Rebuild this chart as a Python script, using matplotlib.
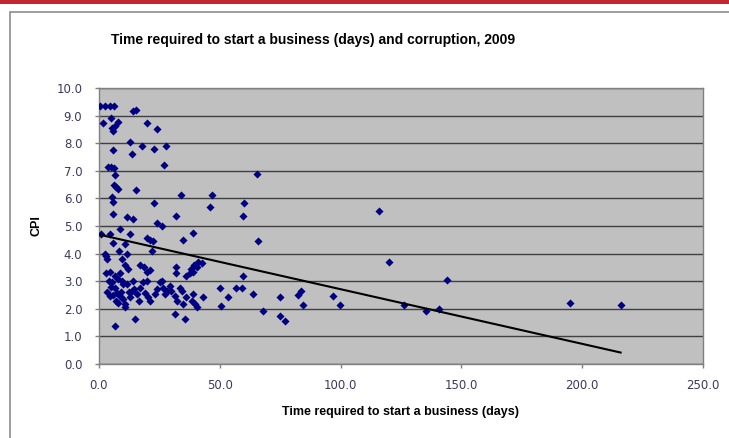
import numpy as np
import matplotlib.pyplot as plt
from matplotlib.patches import Rectangle

# values (days, CPI score)
days_high = [0.5, 2.5, 4.5, 6.3, 14.2, 15.2, 1.8, 4.8, 8.0, 5.2, 6.0, 6.6,
             20.0, 23.8, 12.8, 13.5, 5.7, 18.0, 22.7, 27.7, 26.9, 3.8, 5.0, 6.2,
             6.6, 6.2, 6.9, 7.9, 15.3, 5.2, 5.9, 33.8, 46.6, 45.9, 22.7,
             5.7, 11.4, 14.2, 31.8, 60.0, 59.4, 65.4, 24.0, 26.0]
cpi_high = [9.33, 9.33, 9.33, 9.33, 9.15, 9.2, 8.74, 8.9, 8.78, 8.55, 8.44, 8.62,
            8.74, 8.5, 8.05, 7.6, 7.75, 7.89, 7.8, 7.89, 7.2, 7.13, 7.13, 7.1,
            6.84, 6.47, 6.4, 6.33, 6.31, 6.05, 5.87, 6.11, 6.11, 5.68, 5.83,
            5.42, 5.32, 5.26, 5.35, 5.83, 5.35, 6.9, 5.1, 5.0]

days_mid = [0.8, 4.5, 8.7, 12.8, 5.8, 19.8, 21.0, 22.3, 10.7, 34.7, 38.8, 2.5,
            2.9, 3.3, 8.3, 11.6, 21.9, 9.5, 10.7, 12.0, 17.0, 18.5, 19.7, 21.0,
            32.0, 32.0, 36.0, 37.6, 38.0, 39.5, 41.0, 42.5, 39.0, 40.5, 59.8, 65.8]
cpi_mid = [4.7, 4.7, 4.9, 4.7, 4.4, 4.55, 4.5, 4.45, 4.35, 4.5, 4.75, 4.0,
           3.9, 3.8, 4.1, 4.0, 4.1, 3.8, 3.6, 3.45, 3.6, 3.5, 3.35, 3.4,
           3.5, 3.3, 3.2, 3.3, 3.45, 3.6, 3.7, 3.65, 3.35, 3.5, 3.2, 4.45]

days_low = [4.5, 6.6, 8.0, 9.4, 5.2, 6.6, 7.3, 8.7, 10.0, 10.7, 10.7, 12.8,
            13.5, 14.5, 15.6, 16.9, 18.3, 19.7, 19.0, 20.4, 21.1, 23.1, 23.8, 25.2,
            25.9, 26.6, 28.0, 27.3, 29.3, 30.0, 31.4, 32.1, 33.5, 34.2, 34.8, 36.2,
            38.3, 39.7, 40.4, 39.0, 43.1, 50.0, 50.7, 53.4, 56.9, 59.0, 63.8, 67.9,
            74.8, 74.8, 76.9, 31.4, 35.5, 14.9, 6.6,
            3.0, 4.0, 5.0, 6.0, 7.0, 8.0, 9.0, 3.5, 4.5, 11.5, 12.5, 14.0, 16.5, 9.8, 8.5,
            82.4, 83.7, 84.4, 96.8, 99.9]
cpi_low = [3.32, 3.2, 3.08, 3.02, 2.96, 2.75, 2.59, 2.47, 2.35, 2.17, 2.05, 2.41,
           2.65, 2.71, 2.53, 2.77, 2.96, 3.02, 2.59, 2.41, 2.29, 2.53, 2.71, 2.96,
           3.02, 2.77, 2.65, 2.53, 2.84, 2.65, 2.47, 2.29, 2.77, 2.65, 2.17, 2.41,
           2.29, 2.17, 2.05, 2.53, 2.41, 2.77, 2.11, 2.41, 2.77, 2.77, 2.53, 1.93,
           2.41, 1.75, 1.56, 1.8, 1.62, 1.62, 1.38,
           3.3, 3.0, 2.8, 2.5, 2.3, 2.2, 2.6, 2.6, 2.45, 2.9, 2.6, 3.0, 2.3, 2.9, 3.3,
           2.51, 2.63, 2.13, 2.45, 2.13]

days_far = [115.8, 120.0, 143.9, 126.4, 135.4, 140.9, 194.9, 215.9]
cpi_far = [5.54, 3.71, 3.04, 2.13, 1.93, 1.99, 2.2, 2.13]

# linear trend as drawn in the reference (intercept, slope per day)
trend_intercept = 4.69
trend_slope = -0.0198

days = np.array(days_high + days_mid + days_low + days_far)
cpi = np.array(cpi_high + cpi_mid + cpi_low + cpi_far)

fig = plt.figure(figsize=(7.29, 4.38), dpi=100)
fig.patch.set_facecolor("white")

# red strip at the very top and the chart frame
fig.add_artist(Rectangle((0, 1 - 4 / 438), 1, 4 / 438, transform=fig.transFigure,
                         facecolor="#c3262f", edgecolor="none"))
fig.add_artist(Rectangle((10 / 729, -0.05), 1.1, 1 - 12 / 438 + 0.05,
                         transform=fig.transFigure, facecolor="none",
                         edgecolor="#8c8c8c", linewidth=1.2))

ax = fig.add_axes([99 / 729, 1 - 364 / 438, 604 / 729, 276 / 438])
ax.set_facecolor("#c0c0c0")

ax.scatter(days, cpi, marker="D", s=17, color="#000080", zorder=3, linewidths=0)

xs = np.array([days.min(), days.max()])
ax.plot(xs, trend_intercept + trend_slope * xs, color="black", linewidth=1.5, zorder=4)

ax.set_xlim(0, 250)
ax.set_ylim(0, 10)
ax.set_xticks(np.arange(0, 251, 50))
ax.set_yticks(np.arange(0, 10.1, 1))
ax.xaxis.set_major_formatter(plt.FormatStrFormatter("%.1f"))
ax.yaxis.set_major_formatter(plt.FormatStrFormatter("%.1f"))
ax.tick_params(labelsize=8.5, colors="#808080", labelcolor="#3a3a60", length=3, width=1)
ax.tick_params(axis="x", pad=8)
ax.tick_params(axis="y", pad=9)
ax.grid(axis="y", color="#404040", linewidth=1.0)
ax.set_axisbelow(True)
for s in ax.spines.values():
    s.set_color("#808080")
    s.set_linewidth(1.0)

ax.set_xlabel("Time required to start a business (days)", fontsize=9,
              fontweight="bold", family="Liberation Sans", labelpad=10)
ax.set_ylabel("CPI", fontsize=9, fontweight="bold", family="Liberation Sans",
              labelpad=10)
fig.text(0.43, 1 - 40 / 438, "Time required to start a business (days) and corruption, 2009",
         ha="center", va="center", fontsize=10, fontweight="bold",
         family="Liberation Sans")

plt.savefig("out.png", dpi=100)
